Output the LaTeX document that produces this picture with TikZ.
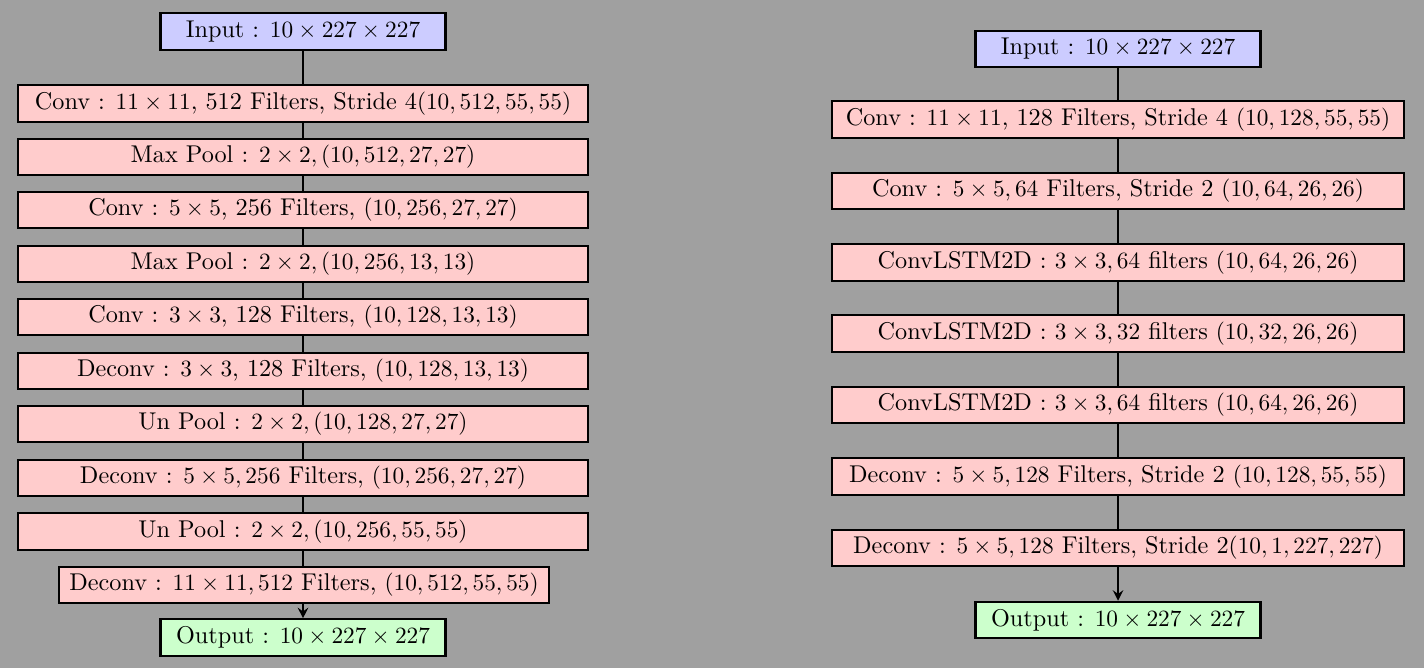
\documentclass[tikz,border=0pt]{standalone}
\usetikzlibrary{arrows.meta}
\definecolor{bg}{HTML}{A0A0A0}
\definecolor{inblue}{HTML}{CCCCFF}
\definecolor{layerpink}{HTML}{FFCCCC}
\definecolor{outgreen}{HTML}{CCFFCC}
\begin{document}
\begin{tikzpicture}[x=0.429pt,y=-0.429pt,
  box/.style={draw=black,line width=0.95pt,inner sep=0pt,minimum height=15.6pt,font=\fontsize{10.4}{12.5}\selectfont},
  inbox/.style={box,fill=inblue,minimum width=122.3pt},
  outbox/.style={box,fill=outgreen,minimum width=122.3pt},
  layerL/.style={box,fill=layerpink,minimum width=244.5pt},
  layerR/.style={box,fill=layerpink,minimum width=245.4pt},
  link/.style={line width=0.75pt},
  arr/.style={line width=0.75pt,-{Stealth[length=4.5pt,width=4.5pt,inset=1.6pt]}}]
\fill[bg] (0,0) rectangle (1424,668);
\useasboundingbox (0,0) rectangle (1424,668);
% left column
\node[inbox] (lin) at (303,31.5) {Input : $10\times227\times227$};
\node[layerL] (l1) at (303,103.5) {Conv : $11\times11$, 512 Filters, Stride 4$(10,512,55,55)$};
\node[layerL] (l2) at (303,157) {Max Pool : $2\times2,(10,512,27,27)$};
\node[layerL] (l3) at (303,210) {Conv : $5\times5$, 256 Filters, $(10,256,27,27)$};
\node[layerL] (l4) at (303,264) {Max Pool : $2\times2,(10,256,13,13)$};
\node[layerL] (l5) at (303,317) {Conv : $3\times3$, 128 Filters, $(10,128,13,13)$};
\node[layerL] (l6) at (303,371) {Deconv : $3\times3$, 128 Filters, $(10,128,13,13)$};
\node[layerL] (l7) at (303,424) {Un Pool : $2\times2,(10,128,27,27)$};
\node[layerL] (l8) at (303,478) {Deconv : $5\times5,256$ Filters, $(10,256,27,27)$};
\node[layerL] (l9) at (303,531.5) {Un Pool : $2\times2,(10,256,55,55)$};
\node[box,fill=layerpink,minimum width=210.2pt] (l10) at (304,585) {Deconv : $11\times11,512$ Filters, $(10,512,55,55)$};
\node[outbox] (lout) at (303,637.5) {Output : $10\times227\times227$};
\draw[link] (lin) -- (l1);
\draw[link] (l1) -- (l2);
\draw[link] (l2) -- (l3);
\draw[link] (l3) -- (l4);
\draw[link] (l4) -- (l5);
\draw[link] (l5) -- (l6);
\draw[link] (l6) -- (l7);
\draw[link] (l7) -- (l8);
\draw[link] (l8) -- (l9);
\draw[link] (l9.south) -- (l10.north -| l9.south);
\draw[arr] (l10.south -| lout.north) -- (lout.north);
% right column
\node[inbox] (rin) at (1118,49) {Input : $10\times227\times227$};
\node[layerR] (r1) at (1118,119.5) {Conv : $11\times11$, 128 Filters, Stride 4 $(10,128,55,55)$};
\node[layerR] (r2) at (1118,191) {Conv : $5\times5,64$ Filters, Stride 2 $(10,64,26,26)$};
\node[layerR] (r3) at (1118,262.5) {ConvLSTM2D : $3\times3,64$ filters $(10,64,26,26)$};
\node[layerR] (r4) at (1118,333.5) {ConvLSTM2D : $3\times3,32$ filters $(10,32,26,26)$};
\node[layerR] (r5) at (1118,405) {ConvLSTM2D : $3\times3,64$ filters $(10,64,26,26)$};
\node[layerR] (r6) at (1118,476.5) {Deconv : $5\times5,128$ Filters, Stride 2 $(10,128,55,55)$};
\node[layerR] (r7) at (1118,548) {Deconv : $5\times5,128$ Filters, Stride 2$(10,1,227,227)$};
\node[outbox] (rout) at (1118,620) {Output : $10\times227\times227$};
\draw[link] (rin) -- (r1);
\draw[link] (r1) -- (r2);
\draw[link] (r2) -- (r3);
\draw[link] (r3) -- (r4);
\draw[link] (r4) -- (r5);
\draw[link] (r5) -- (r6);
\draw[link] (r6) -- (r7);
\draw[arr] (r7) -- (rout);
\end{tikzpicture}
\end{document}
